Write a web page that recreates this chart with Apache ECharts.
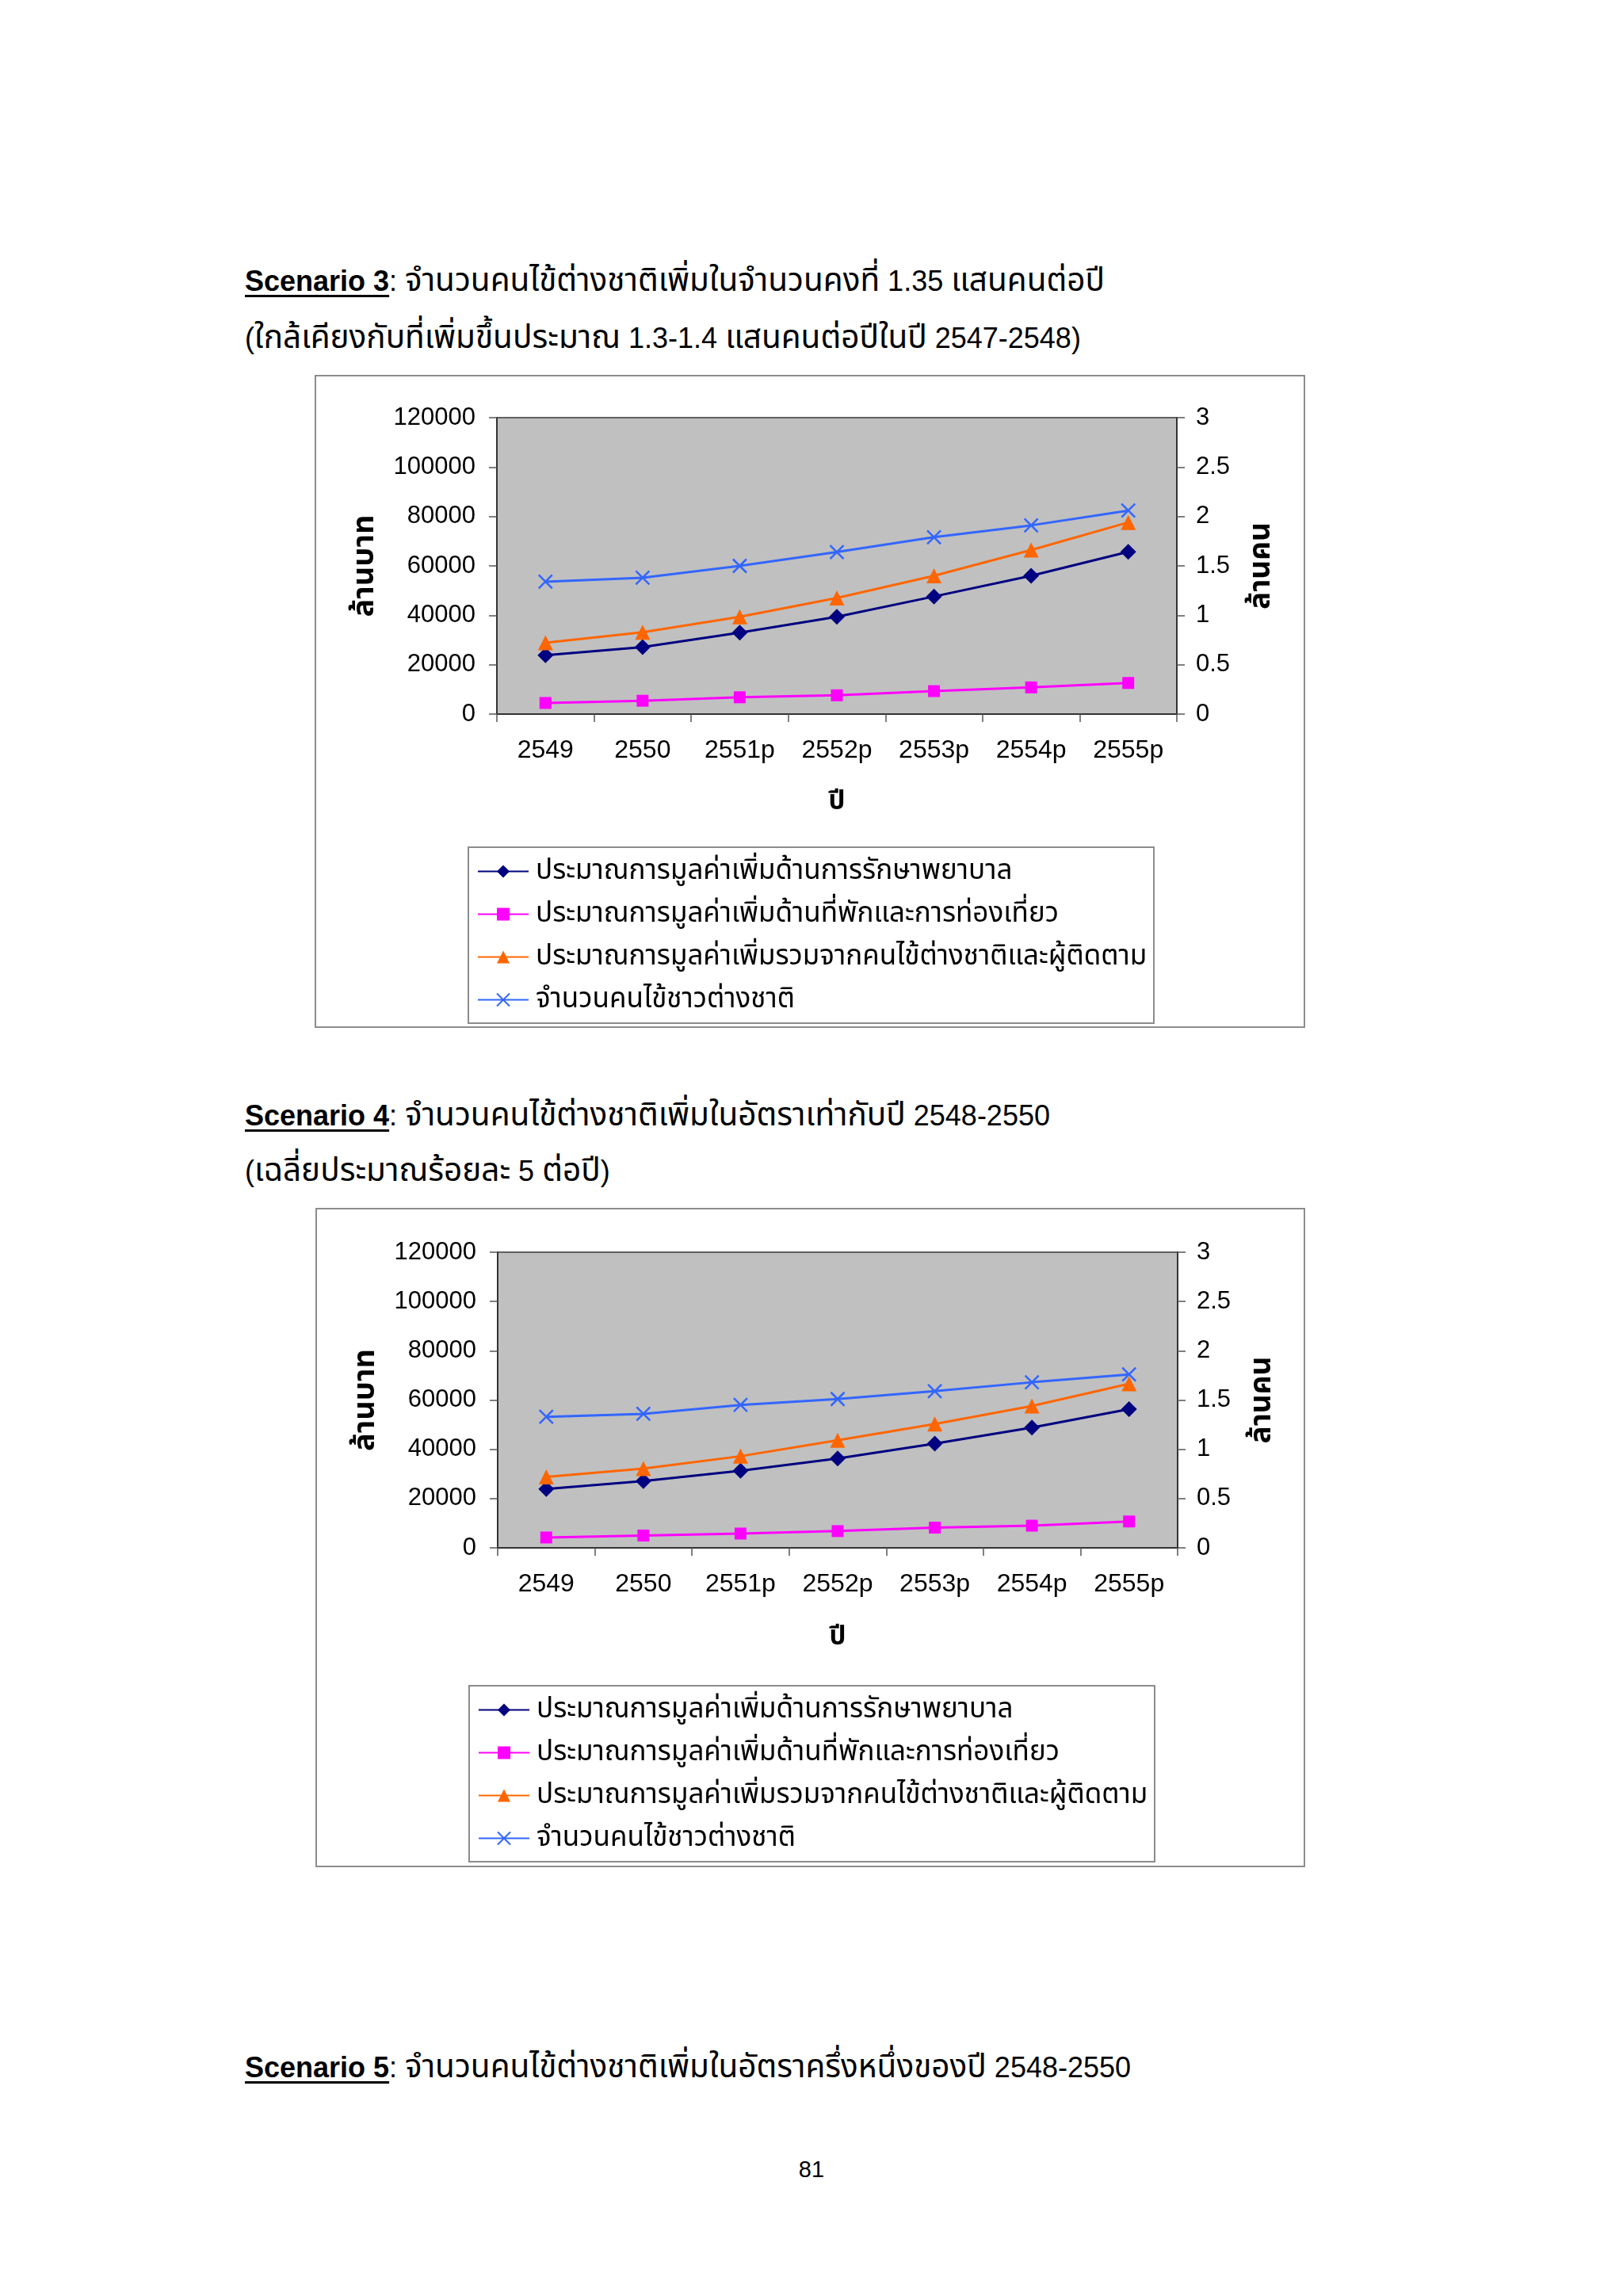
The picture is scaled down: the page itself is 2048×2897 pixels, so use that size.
<!DOCTYPE html>
<html><head><meta charset="utf-8">
<script src="https://cdn.jsdelivr.net/npm/echarts@6/dist/echarts.min.js"></script>
<style>
body{margin:0;background:#fff;width:2048px;height:2897px;position:relative;font-family:"Liberation Sans",Arial,"Noto Sans Thai","Noto Sans",sans-serif;}
.h{position:absolute;left:309px;font-size:36px;line-height:44px;color:#000;white-space:nowrap}
.h b{text-decoration:underline;text-underline-offset:5px;text-decoration-thickness:3px}
.h .t{font-size:40.5px}
.box{position:absolute;border:2px solid #8c8c8c;box-sizing:border-box;background:#fff}
.pg{position:absolute;left:1004px;top:2721px;font-size:29px;width:40px;text-align:center}
</style></head>
<body>
<div class="h" style="top:331px"><b>Scenario 3</b>: <span class="t">จำนวนคนไข้ต่างชาติเพิ่มในจำนวนคงที่</span> 1.35 <span class="t">แสนคนต่อปี</span></div>
<div class="h" style="top:403px">(<span class="t">ใกล้เคียงกับที่เพิ่มขึ้นประมาณ</span> 1.3-1.4 <span class="t">แสนคนต่อปีในปี</span> 2547-2548)</div>
<div class="box" id="c1" style="left:397px;top:473px;width:1250px;height:824px"></div>
<div class="h" style="top:1384px"><b>Scenario 4</b>: <span class="t">จำนวนคนไข้ต่างชาติเพิ่มในอัตราเท่ากับปี</span> 2548-2550</div>
<div class="h" style="top:1454px">(<span class="t">เฉลี่ยประมาณร้อยละ</span> 5 <span class="t">ต่อปี</span>)</div>
<div class="box" id="c2" style="left:398px;top:1524px;width:1249px;height:832px"></div>
<div class="h" style="top:2585px"><b>Scenario 5</b>: <span class="t">จำนวนคนไข้ต่างชาติเพิ่มในอัตราครึ่งหนึ่งของปี</span> 2548-2550</div>
<div class="pg">81</div>
<script>
const categories = ['2549','2550','2551p','2552p','2553p','2554p','2555p'];
const seriesNames = [
  'ประมาณการมูลค่าเพิ่มด้านการรักษาพยาบาล',
  'ประมาณการมูลค่าเพิ่มด้านที่พักและการท่องเที่ยว',
  'ประมาณการมูลค่าเพิ่มรวมจากคนไข้ต่างชาติและผู้ติดตาม',
  'จำนวนคนไข้ชาวต่างชาติ'
];
const leftAxisName = 'ล้านบาท';
const rightAxisName = 'ล้านคน';
const xAxisName = 'ปี';
// Scenario 3 (million baht / million persons)
const s3Medical  = [23800, 27100, 33000, 39400, 47600, 56000, 65700];
const s3Lodging  = [4500, 5400, 6800, 7600, 9300, 10800, 12600];
const s3Total    = [28900, 33100, 39400, 47000, 56000, 66400, 77600];
const s3Patients = [1.34, 1.38, 1.50, 1.64, 1.79, 1.91, 2.06];
// Scenario 4
const s4Medical  = [23900, 27100, 31300, 36300, 42300, 48800, 56300];
const s4Lodging  = [4200, 5000, 5800, 6800, 8200, 9000, 10700];
const s4Total    = [28800, 32200, 37200, 43700, 50300, 57600, 66600];
const s4Patients = [1.33, 1.36, 1.45, 1.51, 1.59, 1.68, 1.76];

const FONT = '"Liberation Sans", Arial, "Noto Sans Thai", "Noto Sans", sans-serif';
const colors = ['#000080', '#FF00FF', '#FF6600', '#3366FF'];
const symbols = ['diamond', 'rect', 'triangle', 'path://M0,0L10,10M10,0L0,10'];
const symSizes = [20, 15, 19, 17];

function build(data, L) {
  const series = data.map((d, i) => ({
    name: seriesNames[i],
    type: 'line',
    yAxisIndex: i === 3 ? 1 : 0,
    data: d,
    symbol: symbols[i],
    symbolSize: symSizes[i],
    showAllSymbol: true,
    lineStyle: {color: colors[i], width: 3},
    itemStyle: i === 3 ? {color: colors[i], borderColor: colors[i], borderWidth: 2.5} : {color: colors[i], borderWidth: 0},
    emphasis: {disabled: true},
    animation: false
  }));
  return {
    animation: false,
    textStyle: {fontFamily: FONT},
    grid: {left: 228, top: L.gridTop, width: 858, height: L.gridH, show: true,
           backgroundColor: '#C0C0C0', borderColor: '#606060', borderWidth: 2},
    xAxis: {
      type: 'category', data: categories, boundaryGap: true,
      axisLine: {lineStyle: {color: '#333', width: 2}},
      axisTick: {show: true, length: 10, lineStyle: {color: '#555', width: 1.5}},
      axisLabel: {fontSize: 32, color: '#000', margin: 30, fontFamily: FONT},
      name: xAxisName, nameLocation: 'middle', nameGap: L.xNameGap,
      nameTextStyle: {fontSize: 33, fontWeight: 'bold', color: '#000', fontFamily: FONT}
    },
    yAxis: [{
      type: 'value', min: 0, max: 120000, interval: 20000, position: 'left',
      axisLine: {show: true, lineStyle: {color: '#333', width: 2}},
      axisTick: {show: true, length: 10, lineStyle: {color: '#555', width: 1.5}},
      splitLine: {show: false},
      axisLabel: {fontSize: 31, color: '#000', margin: 27, fontFamily: FONT, formatter: v => String(v)},
      name: leftAxisName, nameLocation: 'middle', nameGap: 147, nameRotate: 90,
      nameTextStyle: {fontSize: 38, fontWeight: 'bold', color: '#000', fontFamily: FONT}
    }, {
      type: 'value', min: 0, max: 3, interval: 0.5, position: 'right',
      axisLine: {show: true, lineStyle: {color: '#333', width: 2}},
      axisTick: {show: true, length: 10, lineStyle: {color: '#555', width: 1.5}},
      splitLine: {show: false},
      axisLabel: {fontSize: 31, color: '#000', margin: 24, fontFamily: FONT, formatter: v => String(v)},
      name: rightAxisName, nameLocation: 'middle', nameGap: 88, nameRotate: 90,
      nameTextStyle: {fontSize: 37, fontWeight: 'bold', color: '#000', fontFamily: FONT}
    }],
    legend: {
      orient: 'vertical', left: 198, top: L.legendTop,
      itemWidth: 64, itemHeight: 20, itemGap: 19,
      data: seriesNames,
      selectedMode: false,
      textStyle: {fontSize: 35, color: '#000', lineHeight: 35, padding: [0, 0, 0, 4], fontFamily: FONT}
    },
    graphic: [{
      type: 'rect', left: 191, top: L.legBoxTop, z: -1,
      shape: {width: 865, height: 222},
      style: {fill: '#fff', stroke: '#8c8c8c', lineWidth: 2}
    }],
    series: series
  };
}

const c1 = echarts.init(document.getElementById('c1'));
c1.setOption(build([s3Medical, s3Lodging, s3Total, s3Patients],
  {gridTop: 52, gridH: 374, xNameGap: 94, legendTop: 602, legBoxTop: 593}));
const c2 = echarts.init(document.getElementById('c2'));
c2.setOption(build([s4Medical, s4Lodging, s4Total, s4Patients],
  {gridTop: 54, gridH: 373, xNameGap: 96, legendTop: 609, legBoxTop: 600}));
</script>
</body></html>
